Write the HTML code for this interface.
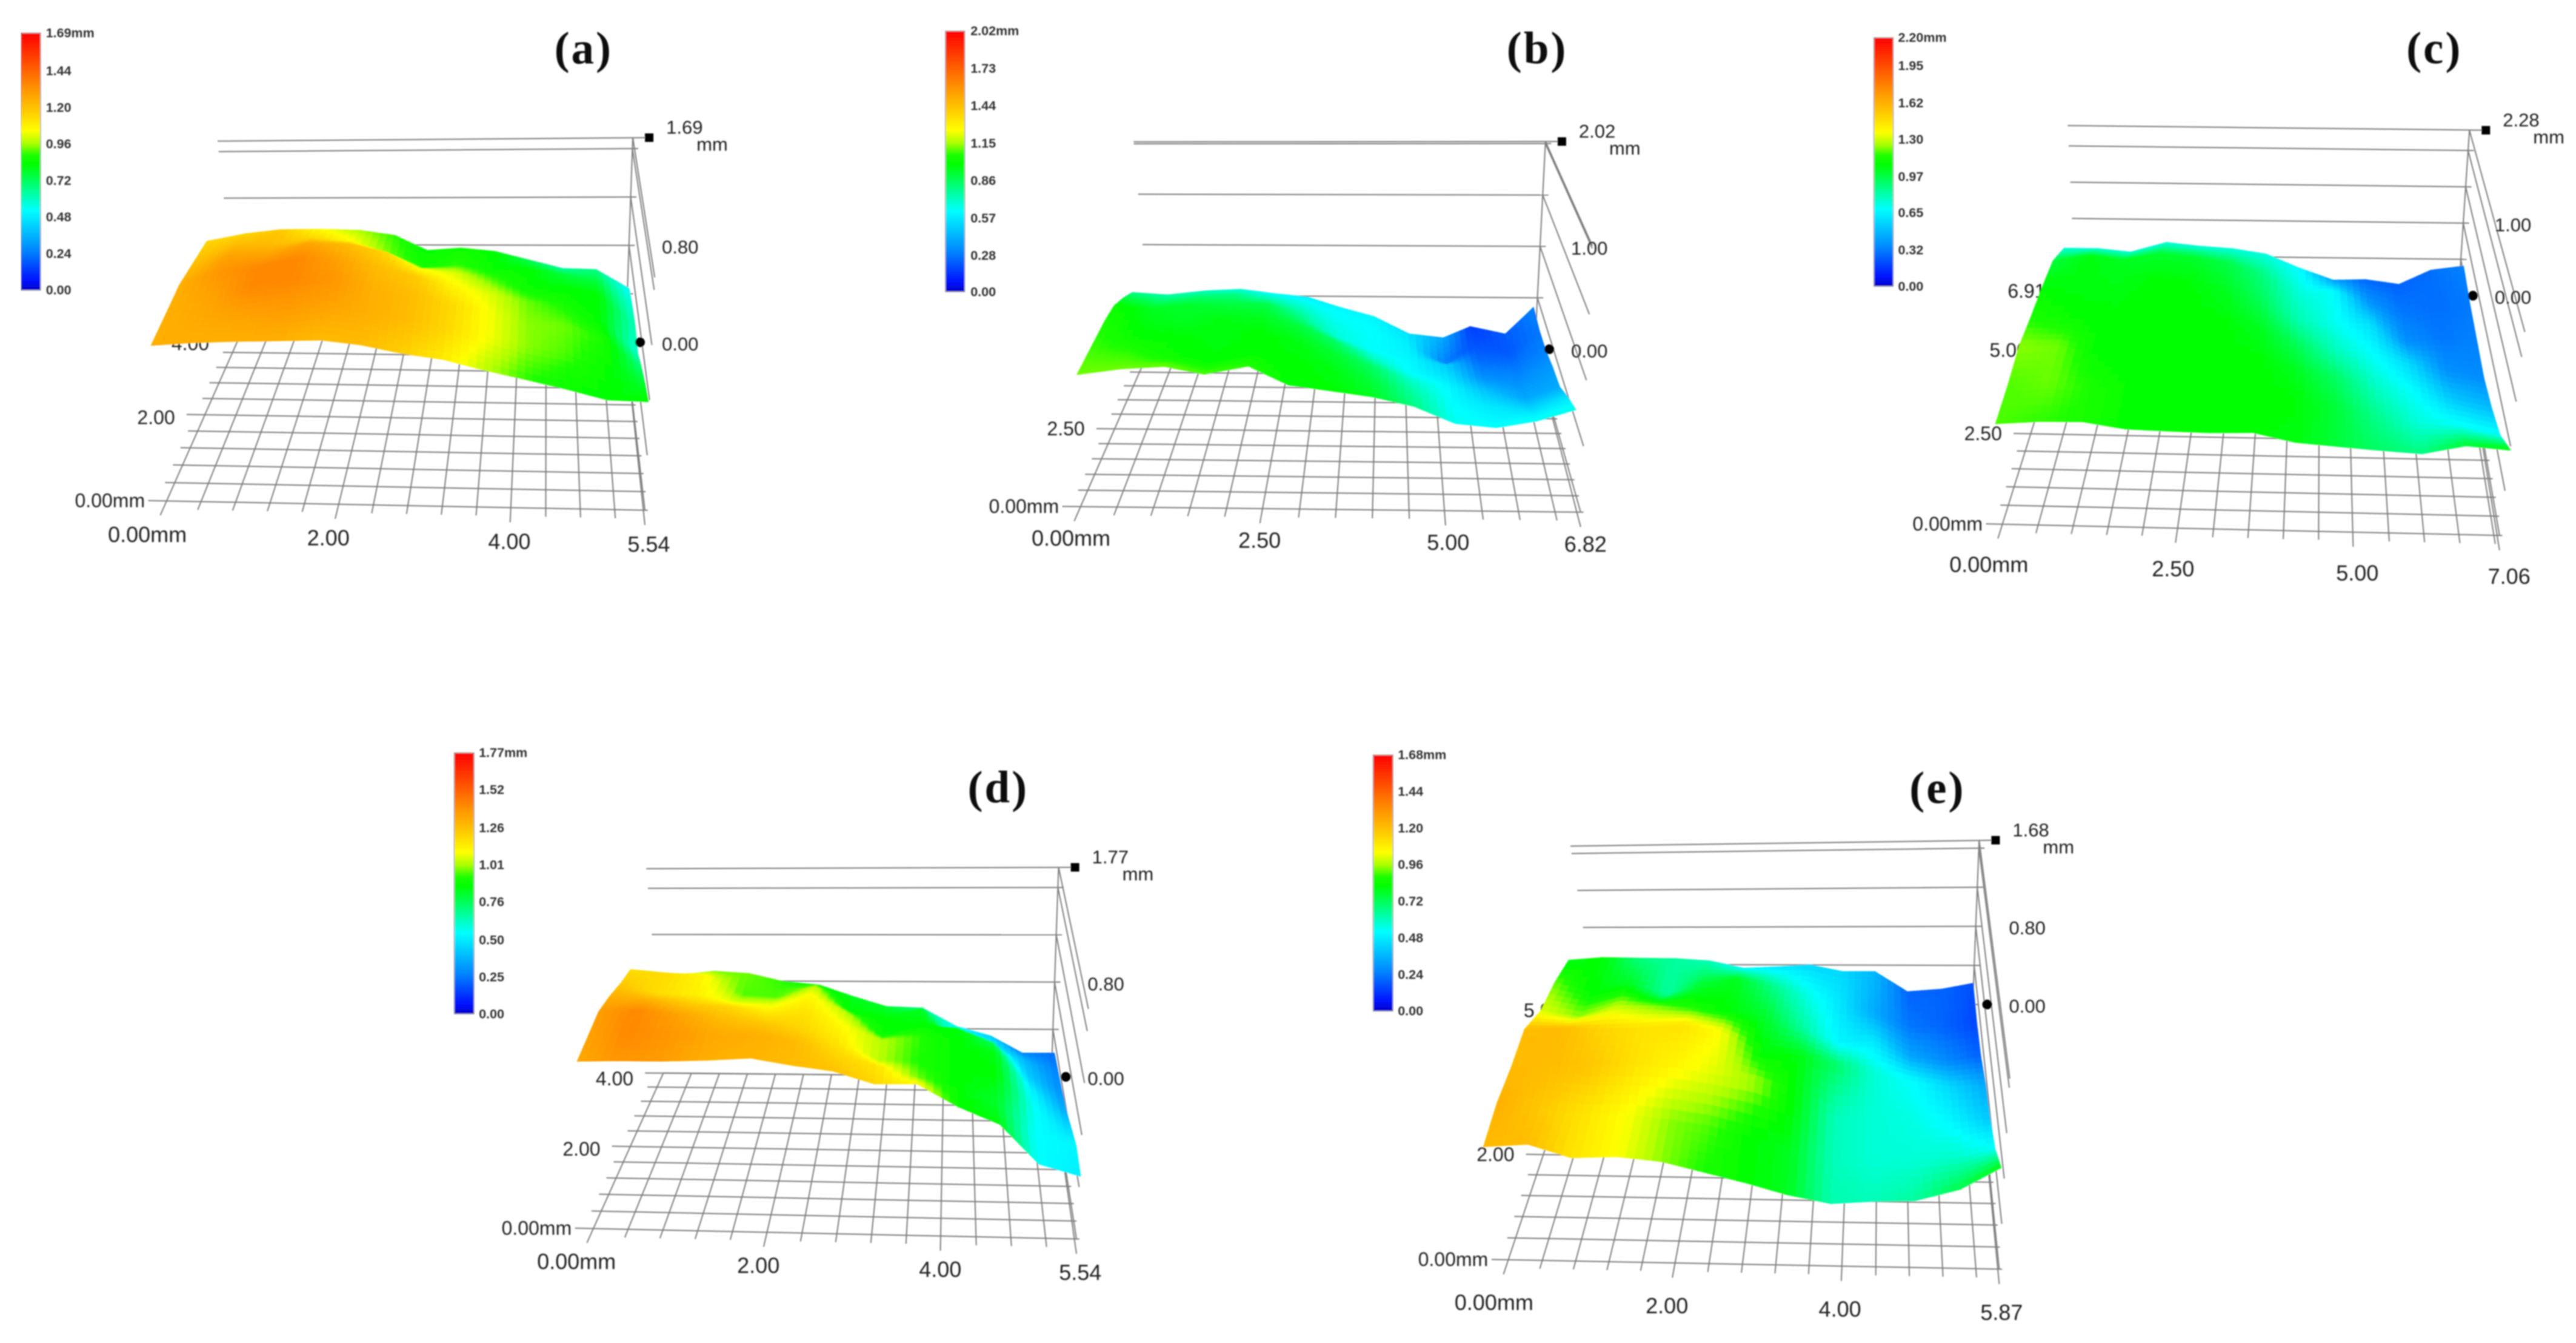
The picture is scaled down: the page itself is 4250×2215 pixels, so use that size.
<!DOCTYPE html>
<html lang="en">
<head>
<meta charset="utf-8">
<title>3D surface height maps (a)–(e)</title>
<style>
html,body{margin:0;padding:0;background:#fff;width:4250px;height:2215px;overflow:hidden}
svg{display:block}
text{font-family:"Liberation Sans",sans-serif;fill:#222}
.title{font-family:"Liberation Serif",serif;font-weight:bold;font-size:75px;letter-spacing:3px;fill:#111}
.x-label{font-size:36px}
.y-label{font-size:32px}
.z-label{font-size:31px}
.bar-label{font-size:21.5px;font-weight:bold;fill:#333}
</style>
</head>
<body>
<svg id="figure" xmlns="http://www.w3.org/2000/svg" width="4250" height="2215" viewBox="0 0 4250 2215">
  <defs>
    <filter id="soft" x="0" y="0" width="100%" height="100%"><feGaussianBlur stdDeviation="1.1"/></filter>
  </defs>
  <rect width="4250" height="2215" fill="#ffffff"/>
  <g id="root" filter="url(#soft)">
    <g id="panel-a"></g>
    <g id="panel-b"></g>
    <g id="panel-c"></g>
    <g id="panel-d"></g>
    <g id="panel-e"></g>
  </g>
</svg>
<script>
// ---------- DATA: tick labels (value is parsed from the label) ----------
const xTickLabelsA = ['0.00mm','2.00','4.00','5.54'];
const yTickLabelsA = ['0.00mm','2.00','4.00'];
const zLevelsA = [0,0.4,0.8,1.2,1.6,1.69];
const zTickLabelsA = ['0.00','0.80','1.69'];
const barLabelsA = ['1.69mm','1.44','1.20','0.96','0.72','0.48','0.24','0.00'];

const xTickLabelsB = ['0.00mm','2.50','5.00','6.82'];
const yTickLabelsB = ['0.00mm','2.50'];
const zLevelsB = [0,0.5,1,1.5,2,2.02];
const zTickLabelsB = ['0.00','1.00','2.02'];
const barLabelsB = ['2.02mm','1.73','1.44','1.15','0.86','0.57','0.28','0.00'];

const xTickLabelsC = ['0.00mm','2.50','5.00','7.06'];
const yTickLabelsC = ['0.00mm','2.50','5.00','6.91'];
const zLevelsC = [0,0.5,1,1.5,2,2.28];
const zTickLabelsC = ['0.00','1.00','2.28'];
const barLabelsC = ['2.20mm','1.95','1.62','1.30','0.97','0.65','0.32','0.00'];

const xTickLabelsD = ['0.00mm','2.00','4.00','5.54'];
const yTickLabelsD = ['0.00mm','2.00','4.00'];
const zLevelsD = [0,0.4,0.8,1.2,1.6,1.77];
const zTickLabelsD = ['0.00','0.80','1.77'];
const barLabelsD = ['1.77mm','1.52','1.26','1.01','0.76','0.50','0.25','0.00'];

const xTickLabelsE = ['0.00mm','2.00','4.00','5.87'];
const yTickLabelsE = ['0.00mm','2.00','5.00'];
const zLevelsE = [0,0.4,0.8,1.2,1.6,1.68];
const zTickLabelsE = ['0.00','0.80','1.68'];
const barLabelsE = ['1.68mm','1.44','1.20','0.96','0.72','0.48','0.24','0.00'];

// ---------- DATA: specimen column positions (mm along x) ----------
const columnsA = [0,0.46,0.92,1.38,1.85,2.31,2.77,3.23,3.69,4.15,4.62,5.08,5.54];
const columnsB = [0,0.57,1.14,1.7,2.27,2.84,3.41,3.98,4.55,5.12,5.68,6.25,6.82];
const columnsC = [-0.1,0.5,1.1,1.71,2.31,2.92,3.52,4.12,4.73,5.33,5.93,6.54,7.14];
const columnsD = [-0.07,0.41,0.88,1.36,1.83,2.31,2.77,3.24,3.71,4.18,4.65,5.1,5.56];
const columnsE = [-0.05,0.44,0.93,1.42,1.91,2.4,2.89,3.38,3.87,4.36,4.85,5.38,5.87];

// ---------- DATA: specimen boundary (mm along y), per column ----------
const backEdgeA = [3.0,3.2,3.2,3.63,3.87,3.95,3.76,3.72,3.74,3.84,3.94,3.75,3.74];
const frontEdgeA = [0.22,0.29,0.32,0.34,0.45,0.35,0.30,0.35,0.43,0.46,0.39,0.21,0.18];
const backEdgeB = [4.5,4.57,4.88,5.1,5.1,5.13,4.68,4.35,3.96,4.35,5.7,5.2,5.9];
const frontEdgeB = [0.62,0.81,0.89,0.72,1.05,0.72,0.55,0.5,0.66,0.65,0.6,0.75,1.05];
const backEdgeC = [6.58,6.58,6.48,6.81,6.70,6.63,6.47,6.14,6.43,6.77,6.63,7.05,7.09];
const frontEdgeC = [0.37,0.50,0.56,0.52,0.49,0.47,0.50,0.31,0.35,0.40,0.42,0.40,0.19];
const backEdgeD = [3.6,3.52,3.7,3.64,3.54,3.67,3.48,3.26,3.68,3.52,3.67,3.78,3.9];
const frontEdgeD = [0.32,0.2,0.25,0.43,0.54,0.43,0.36,0.22,0.47,0.58,0.29,0.21,0.05];
const backEdgeE = [4.5,4.49,4.78,4.84,4.86,4.91,5.01,5.12,4.98,5.12,5.04,5.1,5.3];
const frontEdgeE = [0.02,0.07,0,0.14,0.23,0.16,0.06,-0.09,0.05,0.13,0.09,0.13,0.41];

// ---------- DATA: surface heights as a fraction of the colour-bar maximum (back row first) ----------
const heightsA = [
 [.68,.68,.70,.62,.57,.53,.49,.51,.49,.43,.37,.40,.31],
 [.70,.72,.72,.68,.62,.55,.51,.53,.50,.49,.45,.45,.34],
 [.72,.76,.76,.76,.72,.68,.62,.60,.55,.50,.49,.49,.36],
 [.74,.78,.80,.80,.76,.72,.70,.64,.60,.55,.52,.49,.34],
 [.74,.76,.80,.80,.78,.74,.72,.68,.62,.56,.55,.52,.40],
 [.74,.75,.76,.77,.76,.74,.72,.68,.62,.56,.54,.50,.45],
 [.74,.74,.74,.74,.72,.72,.69,.65,.58,.53,.50,.49,.49]
];
const heightsB = [
 [.39,.37,.35,.33,.31,.29,.30,.30,.27,.20,.08,.11,.15],
 [.45,.42,.41,.40,.37,.34,.32,.31,.29,.15,.10,.11,.14],
 [.50,.47,.46,.45,.44,.39,.34,.31,.30,.24,.13,.14,.15],
 [.52,.48,.47,.48,.47,.45,.42,.36,.31,.27,.17,.17,.18],
 [.53,.50,.49,.48,.49,.48,.46,.42,.35,.30,.23,.20,.20],
 [.54,.53,.50,.49,.49,.49,.48,.45,.38,.31,.28,.26,.27],
 [.55,.55,.55,.54,.53,.49,.49,.47,.40,.32,.31,.32,.33]
];
const heightsC = [
 [.33,.33,.33,.33,.33,.33,.33,.31,.18,.12,.12,.13,.15],
 [.45,.48,.47,.46,.46,.44,.40,.34,.31,.18,.14,.13,.14],
 [.49,.48,.48,.49,.49,.47,.43,.37,.32,.27,.17,.14,.15],
 [.52,.50,.49,.49,.49,.49,.47,.43,.36,.31,.26,.17,.16],
 [.56,.55,.49,.49,.49,.49,.49,.47,.42,.35,.31,.24,.22],
 [.54,.55,.52,.49,.49,.49,.49,.49,.45,.39,.34,.32,.31],
 [.54,.53,.52,.49,.49,.49,.49,.48,.45,.42,.40,.46,.49]
];
const heightsD = [
 [.55,.56,.55,.55,.53,.49,.47,.46,.38,.32,.25,.15,.13],
 [.67,.67,.63,.54,.54,.58,.49,.49,.47,.33,.30,.22,.15],
 [.70,.67,.64,.60,.60,.63,.58,.50,.49,.49,.42,.25,.17],
 [.74,.74,.70,.68,.65,.66,.62,.58,.53,.49,.48,.30,.20],
 [.77,.80,.76,.72,.70,.68,.65,.58,.52,.49,.49,.32,.25],
 [.76,.80,.78,.75,.74,.72,.68,.66,.55,.49,.46,.31,.30],
 [.75,.78,.77,.74,.73,.72,.71,.68,.63,.50,.48,.31,.29]
];
const heightsE = [
 [.47,.49,.40,.38,.36,.30,.28,.26,.26,.22,.12,.12,.10],
 [.55,.49,.47,.38,.45,.47,.40,.33,.28,.20,.14,.12,.09],
 [.60,.56,.58,.55,.52,.49,.46,.38,.30,.28,.20,.16,.12],
 [.72,.72,.68,.66,.66,.62,.49,.48,.42,.34,.31,.26,.20],
 [.72,.72,.70,.66,.63,.60,.57,.49,.36,.34,.33,.30,.24],
 [.74,.70,.66,.62,.56,.54,.49,.47,.36,.34,.34,.35,.32],
 [.72,.72,.66,.62,.56,.52,.49,.47,.37,.36,.38,.44,.48]
];

// ---------- Axis calibration (projection constants, not data) ----------
const layoutA = {id:'a',ox:0,oy:0,sx:0.797,sy:0.64,FL:[345,1290],FR:[1335,1315],BL:[495,870],BR:[1295,882],w:1.12,k:312,kl:0.96,xc:1095,s:0.044,
  yMax:4.0,stepX:0.4,stepY:0.4,bar:[43,84,85,748],barLabelX:95,title:[1208,125],dx0:-40,dx1:8,dy:87,sideRise:355,sideRun:12,yLabelDrop:3.75};
const layoutB = {id:'b',ox:1500,oy:0,sx:0.797,sy:0.64,FL:[355,1305],FR:[1390,1320],BL:[501,890],BR:[1295,900],w:1.12,k:265,kl:0.98,xc:994,s:0.0365,
  yMax:5.5,stepX:0.5,stepY:0.5,bar:[75,115,80,752],barLabelX:127,title:[1300,125],dx0:-20,dx1:10,dy:82,sideRise:340,sideRun:12,yLabelDrop:0};
const layoutC = {id:'c',ox:3000,oy:0,sx:0.797,sy:0.64,FL:[385,1350],FR:[1410,1380],BL:[532,750],BR:[1325,762],w:1.12,k:187,kl:1,xc:858,s:0.0214,
  yMax:6.91,stepX:0.5,stepY:0.5,bar:[115,155,97,738],barLabelX:165,title:[1275,125],dx0:-32,dx1:20,dy:105,sideRise:230,sideRun:23,yLabelDrop:0};
const layoutD = {id:'d',ox:700,oy:1200,sx:0.797,sy:0.64,FL:[350,1290],FR:[1350,1318],BL:[495,890],BR:[1298,900],w:1.12,k:305,kl:0.975,xc:1058,s:0.0355,
  yMax:4.0,stepX:0.4,stepY:0.4,bar:[62,103,65,738],barLabelX:113,title:[1188,155],dx0:-35,dx1:8,dy:86,sideRise:335,sideRun:14,yLabelDrop:3.75};
const layoutE = {id:'e',ox:2240,oy:1200,sx:0.797,sy:0.645,FL:[315,1360],FR:[1328,1385],BL:[490,700],BR:[1273,708],w:1.1,k:250,kl:0.945,xc:1106,s:0.048,
  yMax:5.2,stepX:0.4,stepY:0.4,bar:[32,73,70,725],barLabelX:83,title:[1200,155],dx0:-33,dx1:5,dy:110,sideRise:290,sideRun:13,yLabelDrop:0};

// Colour scale: stop fraction and RGB held separately
const scaleStops = [0,.04,.15,.31,.40,.49,.525,.57,.62,.70,.78,.86,1];
const scaleColours = [[0,0,200],[0,20,255],[0,130,255],[0,255,255],[0,255,130],[0,255,0],[30,255,0],[170,255,0],[255,255,0],[255,200,0],[255,150,0],[255,95,0],[255,0,0]];

const NS = 'http://www.w3.org/2000/svg';
const SUB = 5;

function colourAt(f){
  f = Math.max(0, Math.min(1, f));
  let i = 0;
  while (i < scaleStops.length - 2 && f > scaleStops[i + 1]) i++;
  const t = (f - scaleStops[i]) / (scaleStops[i + 1] - scaleStops[i]);
  const a = scaleColours[i], b = scaleColours[i + 1];
  return 'rgb(' + Math.round(a[0] + (b[0] - a[0]) * t) + ',' + Math.round(a[1] + (b[1] - a[1]) * t) + ',' + Math.round(a[2] + (b[2] - a[2]) * t) + ')';
}

function makeProject(L, xMax){
  return function(u, v, z, ddx, ddy){
    const a = u / xMax, t = v / L.yMax;
    const tp = L.w * t / (1 + (L.w - 1) * t);
    const bx = L.FL[0]*(1-a)*(1-tp) + L.FR[0]*a*(1-tp) + L.BL[0]*(1-a)*tp + L.BR[0]*a*tp;
    const by = L.FL[1]*(1-a)*(1-tp) + L.FR[1]*a*(1-tp) + L.BL[1]*(1-a)*tp + L.BR[1]*a*tp;
    const x = bx + (bx - L.xc) * L.s * z + (ddx || 0);
    const kk = L.k * (L.kl + (1 - L.kl) * a);
    const y = by - kk * z + (ddy || 0);
    return [L.ox + L.sx * x, L.oy + L.sy * y];
  };
}

function addLine(g, p, q, name, colour, width){
  const el = document.createElementNS(NS, 'line');
  
  
  el.setAttribute('x1', p[0].toFixed(1));
  el.setAttribute('y1', p[1].toFixed(1));
  el.setAttribute('x2', q[0].toFixed(1));
  el.setAttribute('y2', q[1].toFixed(1));
  el.setAttribute('stroke', colour);
  el.setAttribute('stroke-width', width);
  g.appendChild(el);
}

function addText(g, x, y, str, cls, anchor, name){
  const el = document.createElementNS(NS, 'text');
  
  
  el.setAttribute('x', x.toFixed(1));
  el.setAttribute('y', y.toFixed(1));
  el.setAttribute('class', cls);
  el.setAttribute('text-anchor', anchor);
  el.setAttribute('dominant-baseline', 'central');
  el.textContent = str;
  g.appendChild(el);
}

function gridValues(step, max){
  const out = [];
  const n = Math.floor(max / step + 1e-6);
  for (let i = 0; i <= n; i++) out.push(i * step);
  if (max - n * step > 1e-3) out.push(max);
  return out;
}

function drawColourBar(g, L, labels){
  const gradId = 'bar-gradient-' + L.id;
  const defs = document.querySelector('defs');
  const grad = document.createElementNS(NS, 'linearGradient');
  grad.setAttribute('id', gradId);
  grad.setAttribute('x1', '0'); grad.setAttribute('y1', '1');
  grad.setAttribute('x2', '0'); grad.setAttribute('y2', '0');
  scaleStops.forEach(function(s){
    const stop = document.createElementNS(NS, 'stop');
    stop.setAttribute('offset', s);
    stop.setAttribute('stop-color', colourAt(s));
    grad.appendChild(stop);
  });
  defs.appendChild(grad);
  const left = L.ox + L.sx * L.bar[0], right = L.ox + L.sx * L.bar[1];
  const top = L.oy + L.sy * L.bar[2], bottom = L.oy + L.sy * L.bar[3];
  const rect = document.createElementNS(NS, 'rect');
  
  
  rect.setAttribute('x', left);
  rect.setAttribute('y', top);
  rect.setAttribute('width', right - left);
  rect.setAttribute('height', bottom - top);
  rect.setAttribute('fill', 'url(#' + gradId + ')');
  rect.setAttribute('stroke', '#aaa');
  rect.setAttribute('stroke-width', '1.5');
  g.appendChild(rect);
  const maxV = parseFloat(labels[0]);
  labels.forEach(function(lab){
    const y = top + (1 - parseFloat(lab) / maxV) * (bottom - top);
    addText(g, L.ox + L.sx * L.barLabelX, y, lab, 'bar-label', 'start', 'colour-bar-label');
  });
}

function drawPanel(L, xLabels, yLabels, zLevels, zLabels, barLabels, columns, backEdge, frontEdge, heights){
  const g = document.getElementById('panel-' + L.id);
  const xMax = parseFloat(xLabels[xLabels.length - 1]);
  const proj = makeProject(L, xMax);
  const barMax = parseFloat(barLabels[0]);
  const xMajor = xLabels.map(parseFloat);
  const yMajor = yLabels.map(parseFloat);
  const isMajor = function(list, val){ return list.some(function(m){ return Math.abs(m - val) < 1e-3; }); };
  const zTop = zLevels[zLevels.length - 1];
  const gridColour = '#7d7d7d', gridWidth = 2;

  addText(g, L.ox + L.sx * L.title[0], L.oy + L.sy * L.title[1], '(' + L.id + ')', 'title', 'middle', 'panel-title');
  drawColourBar(g, L, barLabels);

  // floor grid
  gridValues(L.stepX, xMax).forEach(function(u){
    const ext = isMajor(xMajor, u) ? 38 : 22;
    addLine(g, proj(u, L.yMax, 0), proj(u, 0, 0, -ext * 0.35 * (1 - u / xMax), ext), 'floor-grid-line-x', gridColour, gridWidth);
  });
  gridValues(L.stepY, L.yMax).forEach(function(v){
    const ext = isMajor(yMajor, v) ? 38 : 20;
    addLine(g, proj(0, v, 0, -ext, 0), proj(xMax, v, 0, 6, 0), 'floor-grid-line-y', gridColour, gridWidth);
  });

  // back wall and side wall
  zLevels.forEach(function(z){
    const endX = z === zTop ? 34 : 12;
    addLine(g, proj(0, L.yMax, z), proj(xMax, L.yMax, z, endX, 0), 'back-wall-line', gridColour, gridWidth);
    const start = proj(xMax, L.yMax, z);
    const end = [L.ox + L.sx * (L.FR[0] + L.sideRun * z), L.oy + L.sy * (L.FR[1] - L.sideRise * z)];
    addLine(g, start, end, 'side-wall-line', gridColour, gridWidth);
  });
  addLine(g, proj(xMax, L.yMax, 0), proj(xMax, L.yMax, zTop), 'z-axis-line', gridColour, gridWidth);

  // tick labels
  xLabels.forEach(function(lab, i){
    const u = parseFloat(lab);
    const a = u / xMax;
    const p = proj(u, 0, 0, L.dx0 + (L.dx1 - L.dx0) * a, L.dy);
    addText(g, p[0], p[1], lab, 'x-label', 'middle', 'x-tick-label');
  });
  yLabels.forEach(function(lab){
    const v = parseFloat(lab);
    const p = proj(0, v, 0, v === 0 ? -45 : -62, v * L.yLabelDrop);
    addText(g, p[0], p[1], lab, 'y-label', 'end', 'y-tick-label');
  });

  // surface, painted back to front
  const R = heights.length - 1, C = columns.length - 1;
  const field = function(rf, cf){
    const r0 = Math.min(Math.floor(rf), R - 1), c0 = Math.min(Math.floor(cf), C - 1);
    const dr = rf - r0, dc = cf - c0;
    const f = heights[r0][c0]*(1-dr)*(1-dc) + heights[r0][c0+1]*(1-dr)*dc + heights[r0+1][c0]*dr*(1-dc) + heights[r0+1][c0+1]*dr*dc;
    const u = columns[c0] + (columns[c0+1] - columns[c0]) * dc;
    const back = backEdge[c0] + (backEdge[c0+1] - backEdge[c0]) * dc;
    const front = frontEdge[c0] + (frontEdge[c0+1] - frontEdge[c0]) * dc;
    const v = back + (front - back) * (rf / R);
    return {f: f, p: proj(u, v, f * barMax)};
  };
  const surf = document.createElementNS(NS, 'g');
  
  
  g.appendChild(surf);
  for (let i = 0; i < R * SUB; i++) {
    for (let j = 0; j < C * SUB; j++) {
      const a = field(i / SUB, j / SUB), b = field(i / SUB, (j + 1) / SUB);
      const c = field((i + 1) / SUB, (j + 1) / SUB), d = field((i + 1) / SUB, j / SUB);
      const col = colourAt((a.f + b.f + c.f + d.f) / 4);
      const poly = document.createElementNS(NS, 'polygon');
      
      
      poly.setAttribute('points', [a, b, c, d].map(function(q){ return q.p[0].toFixed(1) + ',' + q.p[1].toFixed(1); }).join(' '));
      poly.setAttribute('fill', col);
      poly.setAttribute('stroke', col);
      poly.setAttribute('stroke-width', '1.6');
      surf.appendChild(poly);
    }
  }

  // z axis markers and labels
  const sq = proj(xMax, L.yMax, zTop, 34, 0);
  const square = document.createElementNS(NS, 'rect');
  
  
  square.setAttribute('x', sq[0] - 7);
  square.setAttribute('y', sq[1] - 7);
  square.setAttribute('width', 14);
  square.setAttribute('height', 14);
  square.setAttribute('fill', '#000');
  g.appendChild(square);
  const ci = proj(xMax, L.yMax, 0, 30, 0);
  const circle = document.createElementNS(NS, 'circle');
  
  
  circle.setAttribute('cx', ci[0]);
  circle.setAttribute('cy', ci[1]);
  circle.setAttribute('r', 8);
  circle.setAttribute('fill', '#000');
  g.appendChild(circle);
  zLabels.forEach(function(lab, i){
    const z = parseFloat(lab);
    if (i === zLabels.length - 1) {
      addText(g, sq[0] + 28, sq[1] - 17, lab, 'z-label', 'start', 'z-max-label');
      addText(g, sq[0] + 78, sq[1] + 11, 'mm', 'z-label', 'start', 'z-unit-label');
    } else {
      const p = proj(xMax, L.yMax, z);
      addText(g, ci[0] + 36, p[1] + 3, lab, 'z-label', 'start', 'z-tick-label');
    }
  });
}

drawPanel(layoutA, xTickLabelsA, yTickLabelsA, zLevelsA, zTickLabelsA, barLabelsA, columnsA, backEdgeA, frontEdgeA, heightsA);
drawPanel(layoutB, xTickLabelsB, yTickLabelsB, zLevelsB, zTickLabelsB, barLabelsB, columnsB, backEdgeB, frontEdgeB, heightsB);
drawPanel(layoutC, xTickLabelsC, yTickLabelsC, zLevelsC, zTickLabelsC, barLabelsC, columnsC, backEdgeC, frontEdgeC, heightsC);
drawPanel(layoutD, xTickLabelsD, yTickLabelsD, zLevelsD, zTickLabelsD, barLabelsD, columnsD, backEdgeD, frontEdgeD, heightsD);
drawPanel(layoutE, xTickLabelsE, yTickLabelsE, zLevelsE, zTickLabelsE, barLabelsE, columnsE, backEdgeE, frontEdgeE, heightsE);
</script>
</body>
</html>
